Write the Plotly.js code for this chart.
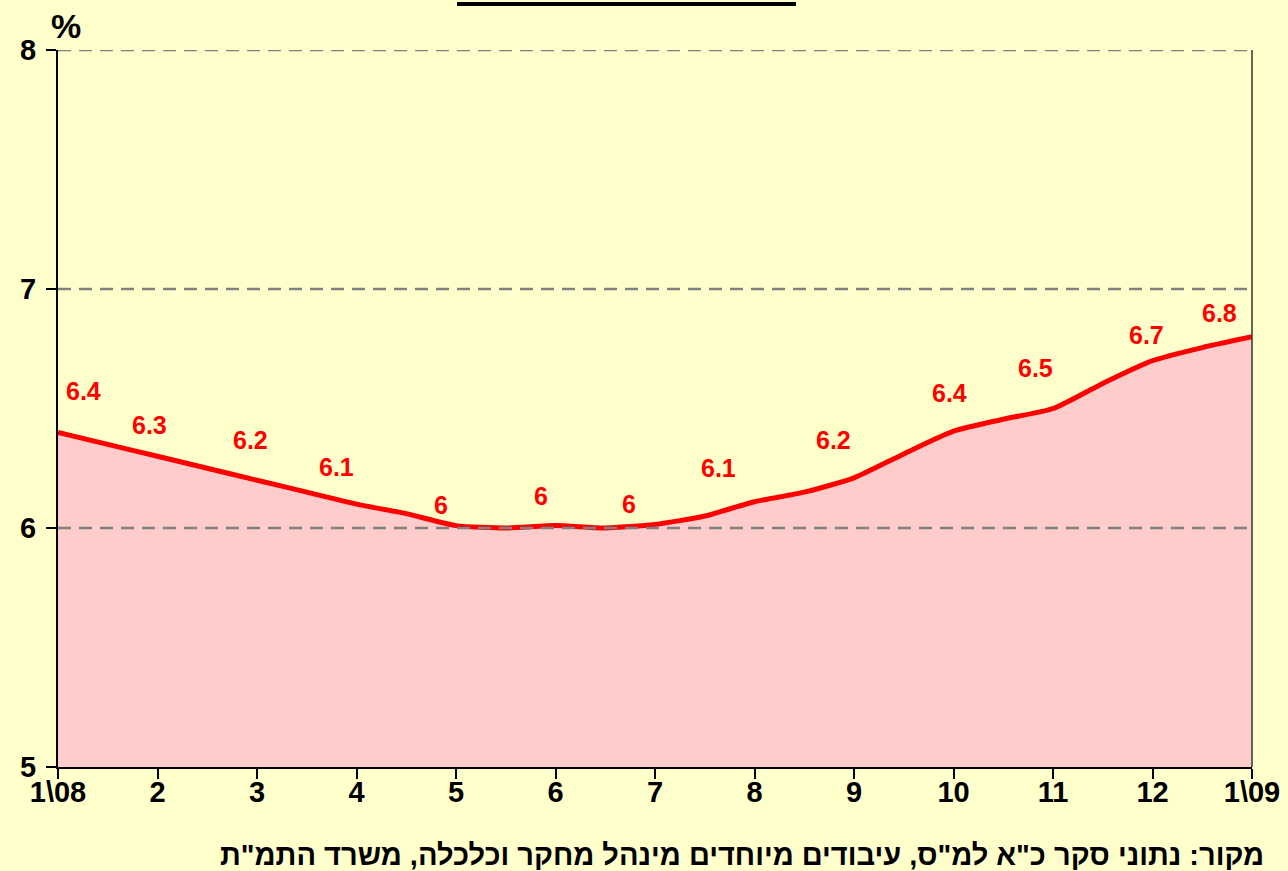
<!DOCTYPE html>
<html>
<head>
<meta charset="utf-8">
<script src="https://cdn.plot.ly/plotly-3.0.1.min.js"></script>
<style>html,body{margin:0;padding:0;background:#FFFFCC;}#chart{width:1288px;height:871px;}</style>
</head>
<body>
<div id="chart"></div>
<script>
// Data (month index, half-month steps): 0 = 1\08 ... 12 = 1\09
const monthPos = [0,0.5,1,1.5,2,2.5,3,3.5,4,4.5,5,5.5,6,6.5,7,7.5,8,8.5,9,9.5,10,10.5,11,11.5,12];
const rate = [6.40,6.35,6.30,6.25,6.20,6.15,6.10,6.06,6.01,6.00,6.01,6.00,6.015,6.05,6.11,6.15,6.21,6.31,6.405,6.455,6.50,6.605,6.70,6.755,6.80];
const tickPos = [0,1,2,3,4,5,6,7,8,9,10,11,12];
const tickText = ['1\\08','2','3','4','5','6','7','8','9','10','11','12','1\\09'];
const labelValues = [6.40,6.30,6.20,6.10,6.01,6.01,6.015,6.11,6.21,6.405,6.50,6.70,6.80];
const labelText = ['6.4','6.3','6.2','6.1','6','6','6','6.1','6.2','6.4','6.5','6.7','6.8'];
const yTicks = [5,6,7,8];
const gridValues = [6,7,8];
const sourceText = 'מקור: נתוני סקר כ"א למ"ס, עיבודים מיוחדים מינהל מחקר וכלכלה, משרד התמ"ת';

// label placement (pixels)
const labelShiftX = [25,-8,-7,-20,-15,-15,-26,-36,-21,-4,-18,-6,-33];
const labelShiftY = [41,31,40,37,21,30,20,34,38,38,41,26,24];

const FONT = 'Liberation Sans, Arial, sans-serif';
const b = s => '<b>' + s + '</b>';

const annotations = labelText.map((t,i)=>({
  x: tickPos[i], y: labelValues[i], xref:'x', yref:'y', text: b(t), showarrow:false,
  xshift: labelShiftX[i], yshift: labelShiftY[i],
  font:{family:FONT, size:25, color:'#FF0000'}
}));
annotations.push({
  xref:'paper', yref:'paper', x:0.0067, y:(767-26)/717, text:b('%'), showarrow:false,
  xanchor:'center', yanchor:'middle', font:{family:FONT, size:34, color:'#000'}
});
annotations.push({
  xref:'paper', yref:'paper', x:(1266-58)/1194, y:(767-855)/717, text:b(sourceText), showarrow:false,
  xanchor:'right', yanchor:'middle', font:{family:FONT, size:29, color:'#000'}
});

const trace = {
  x: monthPos, y: rate, type:'scatter', mode:'lines',
  line:{color:'#FF0000', width:5, shape:'spline', smoothing:0.6},
  fill:'tozeroy', fillcolor:'#FFCCCC', hoverinfo:'skip'
};

const gridShapes = gridValues.map(v=>({
  type:'line', xref:'paper', yref:'y', x0:0, x1:1, y0:v, y1:v, layer:'above',
  line:{color:'#808080', width:2.5, dash:'13px,8px'}
}));

const layout = {
  width:1288, height:871,
  margin:{l:58, r:36, t:50, b:104, pad:0},
  paper_bgcolor:'#FFFFCC', plot_bgcolor:'#FFFFCC',
  showlegend:false,
  xaxis:{
    range:[0,12], tickmode:'array', tickvals:tickPos, ticktext:tickText.map(b),
    ticks:'outside', ticklen:10, tickwidth:2, tickcolor:'#000', ticklabelstandoff:-12,
    showline:true, linecolor:'#000', linewidth:2, showgrid:false, zeroline:false,
    tickfont:{family:FONT, size:29, color:'#000'}, fixedrange:true, layer:'above traces'
  },
  yaxis:{
    range:[5,8], tickmode:'array', tickvals:yTicks, ticktext:yTicks.map(v=>b(String(v))),
    ticks:'outside', ticklen:10, tickwidth:2, tickcolor:'#000', ticklabelstandoff:4,
    showline:true, linecolor:'#000', linewidth:2, showgrid:false, zeroline:false,
    tickfont:{family:FONT, size:29, color:'#000'}, fixedrange:true, layer:'above traces'
  },
  shapes: gridShapes.concat([
    {type:'line', xref:'paper', yref:'paper', x0:1, x1:1, y0:0, y1:1, line:{color:'#333333', width:1.5}},
    {type:'line', xref:'paper', yref:'paper', x0:(457-58)/1194, x1:(796-58)/1194, y0:(767-4)/717, y1:(767-4)/717, line:{color:'#000', width:4}}
  ]),
  annotations: annotations
};

Plotly.newPlot('chart', [trace], layout, {displayModeBar:false, staticPlot:true});
</script>
</body>
</html>
